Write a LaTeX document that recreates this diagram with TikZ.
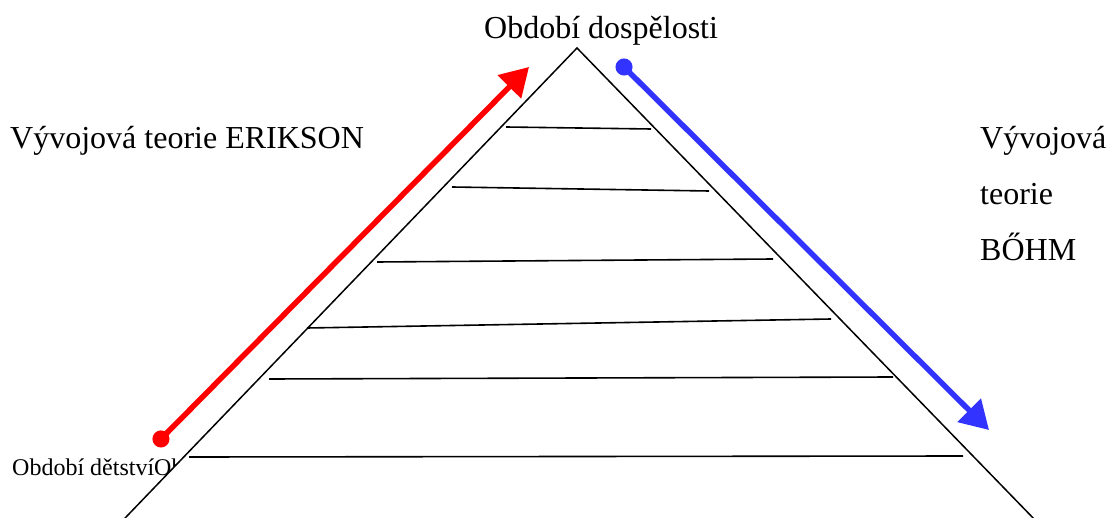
\documentclass[tikz,border=0pt]{standalone}
\usepackage{fontspec}
\setmainfont{Liberation Serif}
\usetikzlibrary{arrows.meta}
\definecolor{myred}{RGB}{255,0,0}
\definecolor{myblue}{RGB}{51,51,255}
\tikzset{
  bigtext/.style={font=\fontsize{32}{38}\selectfont, inner sep=0pt, anchor=base west},
  smalltext/.style={font=\fontsize{24}{29}\selectfont, inner sep=0pt, anchor=base west},
  pyramid/.style={draw=black, fill=white, line width=1.5pt, line join=miter},
  level/.style={draw=black, line width=1.6pt},
  redarrow/.style={draw=myred, line width=5.5pt, {Circle[length=17pt]}-{Triangle[length=28pt,width=32pt]}},
  bluearrow/.style={draw=myblue, line width=5.5pt, {Circle[length=17pt]}-{Triangle[length=28pt,width=32pt]}}
}
\begin{document}
\begin{tikzpicture}[x=1pt,y=-1pt]
\useasboundingbox (0,0) rectangle (1110,518);
\clip (0,0) rectangle (1110,518);
% texts
\node[bigtext] (top) at (484,39) {Období dospělosti};
\node[bigtext] (erik) at (10,149) {Vývojová teorie ERIKSON};
\node[bigtext] (b1) at (980,149) {Vývojová};
\node[bigtext] (b2) at (980,205) {teorie};
\node[bigtext] (b3) at (980,261) {BŐHM};
\node[smalltext] (child) at (12,475) {Období dětstvíObdobí};
% pyramid
\coordinate (apex) at (577,48);
\coordinate (bl) at (95.3,549);
\coordinate (br) at (1063.2,549);
\path[pyramid] (bl) -- (apex) -- (br);
% levels
\coordinate (l1a) at (506,127); \coordinate (l1b) at (651,129);
\coordinate (l2a) at (452,187); \coordinate (l2b) at (709,191);
\coordinate (l3a) at (377,262); \coordinate (l3b) at (773,259);
\coordinate (l4a) at (307,328); \coordinate (l4b) at (831,319);
\coordinate (l5a) at (269,379); \coordinate (l5b) at (893,377);
\coordinate (l6a) at (189,457); \coordinate (l6b) at (963,456);
\draw[level] (l1a) -- (l1b);
\draw[level] (l2a) -- (l2b);
\draw[level] (l3a) -- (l3b);
\draw[level] (l4a) -- (l4b);
\draw[level] (l5a) -- (l5b);
\draw[level] (l6a) -- (l6b);
% arrows
\coordinate (rs) at (155,445);
\coordinate (re) at (529,67);
\coordinate (bs) at (618,61);
\coordinate (be) at (989,430);
\draw[redarrow] (rs) -- (re);
\draw[bluearrow] (bs) -- (be);
\end{tikzpicture}
\end{document}
